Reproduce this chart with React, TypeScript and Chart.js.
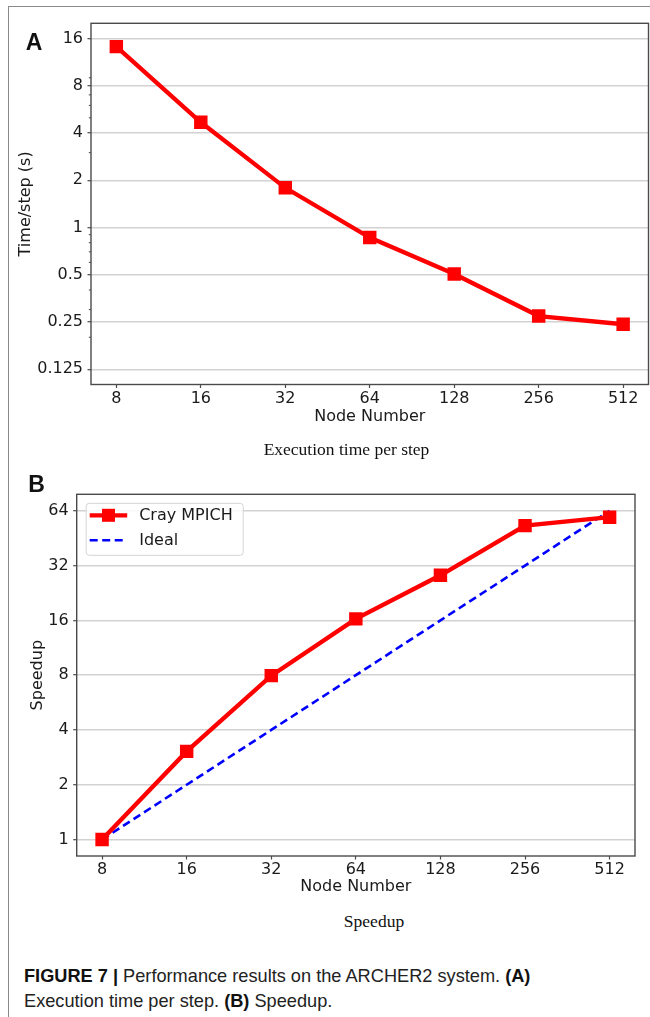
import { useEffect, useRef } from "react";
import { Chart, registerables } from "chart.js";

Chart.register(...registerables);

// ---------- data ----------
const nodeNumbers = [8, 16, 32, 64, 128, 256, 512];
const timePerStep = [14.2, 4.68, 1.79, 0.864, 0.506, 0.273, 0.242];
const speedupCray = [1, 3.05, 7.95, 16.3, 28.3, 53, 59];
const speedupIdeal = [1, 2, 4, 8, 16, 32, 64];
const timeTicks = [0.125, 0.25, 0.5, 1, 2, 4, 8, 16];
const timeMinorTicks = [0.2, 0.3, 0.4, 0.6, 0.7, 0.8, 0.9, 3, 5, 6, 7, 9];
const speedupTicks = [1, 2, 4, 8, 16, 32, 64];
const xLimits = [Math.pow(2, 2.7), Math.pow(2, 9.3)];
const timeLimits = [0.1, 20];
const speedupLimits = [Math.pow(2, -0.3), Math.pow(2, 6.3)];

const FONT = "'DejaVu Sans', sans-serif";
const TEXT = "#1a1a1a";
const AXIS = "#4a4a4a";
const GRID = "#d2d2d2";

const framePlugin = {
  id: "frame",
  afterDatasetsDraw(chart: any) {
    const { ctx, chartArea: a } = chart;
    ctx.save();
    ctx.strokeStyle = AXIS;
    ctx.lineWidth = 1.4;
    ctx.strokeRect(a.left, a.top, a.right - a.left, a.bottom - a.top);
    ctx.restore();
  },
};

const minorTickPlugin = {
  id: "minorTicks",
  afterDraw(chart: any) {
    const { ctx, chartArea: a } = chart;
    const ys = chart.scales.y;
    ctx.save();
    ctx.strokeStyle = AXIS;
    ctx.lineWidth = 1;
    for (const v of timeMinorTicks) {
      const p = ys.getPixelForValue(v);
      ctx.beginPath();
      ctx.moveTo(a.left - 2.2, p);
      ctx.lineTo(a.left, p);
      ctx.stroke();
    }
    ctx.restore();
  },
};

const legendPlugin = {
  id: "mplLegend",
  afterDatasetsDraw(chart: any) {
    const { ctx, chartArea: a } = chart;
    const x = a.left + 9.5;
    const y = a.top + 9;
    const w = 157;
    const h = 52;
    ctx.save();
    ctx.beginPath();
    ctx.roundRect(x, y, w, h, 3);
    ctx.fillStyle = "rgba(255,255,255,0.85)";
    ctx.fill();
    ctx.strokeStyle = "#d4d4d4";
    ctx.lineWidth = 1;
    ctx.stroke();
    const rows = [y + 12, y + 37];
    chart.data.datasets.forEach((d: any, i: number) => {
      const ry = rows[i];
      ctx.beginPath();
      ctx.setLineDash(d.borderDash || []);
      ctx.strokeStyle = d.borderColor;
      ctx.lineWidth = d.borderWidth;
      ctx.moveTo(x + 3.5, ry);
      ctx.lineTo(x + 41, ry);
      ctx.stroke();
      ctx.setLineDash([]);
      if (d.pointRadius > 0) {
        const s = 13;
        ctx.fillStyle = d.pointBackgroundColor;
        ctx.fillRect(x + 22.3 - s / 2, ry - s / 2, s, s);
      }
      ctx.fillStyle = TEXT;
      ctx.font = "16px " + FONT;
      ctx.textBaseline = "middle";
      ctx.fillText(d.label, x + 53, ry + 1);
    });
    ctx.restore();
  },
};

function xScale(height: number, titlePadBottom: number) {
  return {
    type: "logarithmic",
    min: xLimits[0],
    max: xLimits[1],
    afterBuildTicks: (s: any) => {
      s.ticks = nodeNumbers.map((v) => ({ value: v }));
    },
    afterFit: (s: any) => {
      s.height = height;
      s.paddingLeft = 0;
      s.paddingRight = 0;
    },
    ticks: {
      autoSkip: false,
      maxRotation: 0,
      padding: 1,
      color: TEXT,
      font: { family: FONT, size: 16 },
      callback: (v: any) => String(v),
    },
    grid: {
      drawOnChartArea: false,
      drawTicks: true,
      tickLength: 3.5,
      tickColor: AXIS,
      tickWidth: 1.2,
    },
    border: { display: false },
    title: {
      display: true,
      text: "Node Number",
      color: TEXT,
      font: { family: FONT, size: 16 },
      padding: { top: 0, bottom: titlePadBottom },
    },
  };
}

function yScale(
  width: number,
  limits: number[],
  ticks: number[],
  title: string,
  titlePadTop: number
) {
  return {
    type: "logarithmic",
    min: limits[0],
    max: limits[1],
    afterBuildTicks: (s: any) => {
      s.ticks = ticks.map((v) => ({ value: v }));
    },
    afterFit: (s: any) => {
      s.width = width;
      s.paddingTop = 0;
      s.paddingBottom = 0;
    },
    ticks: {
      autoSkip: false,
      padding: 4.5,
      color: TEXT,
      font: { family: FONT, size: 16 },
      callback: (v: any) => String(v),
    },
    grid: {
      color: GRID,
      lineWidth: 1.4,
      drawTicks: true,
      tickLength: 3.5,
      tickColor: AXIS,
      tickWidth: 1.2,
    },
    border: { display: false },
    title: {
      display: true,
      text: title,
      color: TEXT,
      font: { family: FONT, size: 16 },
      padding: { top: titlePadTop, bottom: 0 },
    },
  };
}

const abs = (o: any) => ({ position: "absolute" as const, ...o });

export default function App() {
  const refA = useRef<HTMLCanvasElement>(null);
  const refB = useRef<HTMLCanvasElement>(null);

  useEffect(() => {
    const chartA = new Chart(refA.current as HTMLCanvasElement, {
      type: "line",
      data: {
        datasets: [
          {
            label: "Time/step",
            data: nodeNumbers.map((n, i) => ({ x: n, y: timePerStep[i] })),
            borderColor: "#ff0000",
            backgroundColor: "#ff0000",
            borderWidth: 4.3,
            pointStyle: "rect",
            pointRadius: 9.5,
            pointBorderWidth: 0,
            pointBackgroundColor: "#ff0000",
            tension: 0,
          },
        ],
      },
      options: {
        responsive: false,
        animation: false,
        devicePixelRatio: 1,
        layout: { padding: { top: 23.3, right: 1, left: 0, bottom: 0 } },
        plugins: { legend: { display: false }, tooltip: { enabled: false } },
        scales: {
          x: xScale(55.5, 13.4),
          y: yScale(91, timeLimits, timeTicks, "Time/step (s)", 16.4),
        },
      } as any,
      plugins: [framePlugin, minorTickPlugin],
    });

    const chartB = new Chart(refB.current as HTMLCanvasElement, {
      type: "line",
      data: {
        datasets: [
          {
            label: "Cray MPICH",
            data: nodeNumbers.map((n, i) => ({ x: n, y: speedupCray[i] })),
            borderColor: "#ff0000",
            backgroundColor: "#ff0000",
            borderWidth: 4.3,
            pointStyle: "rect",
            pointRadius: 9.5,
            pointBorderWidth: 0,
            pointBackgroundColor: "#ff0000",
            tension: 0,
          },
          {
            label: "Ideal",
            data: nodeNumbers.map((n, i) => ({ x: n, y: speedupIdeal[i] })),
            borderColor: "#0000ff",
            backgroundColor: "#0000ff",
            borderWidth: 2.6,
            borderDash: [8, 4.5],
            pointRadius: 0,
            tension: 0,
          },
        ],
      },
      options: {
        responsive: false,
        animation: false,
        devicePixelRatio: 1,
        layout: { padding: { top: 34.3, right: 15, left: 0, bottom: 0 } },
        plugins: { legend: { display: false }, tooltip: { enabled: false } },
        scales: {
          x: xScale(44, 3.1),
          y: yScale(76.7, speedupLimits, speedupTicks, "Speedup", 28.4),
        },
      } as any,
      plugins: [framePlugin, legendPlugin],
    });

    return () => {
      chartA.destroy();
      chartB.destroy();
    };
  }, []);

  const boldLetter = {
    fontFamily: "'Liberation Sans', Arial, sans-serif",
    fontWeight: 700,
    fontSize: 23,
    lineHeight: "23px",
    color: "#111",
    whiteSpace: "nowrap" as const,
  };
  const serifCap = {
    fontFamily: "'Liberation Serif', 'Times New Roman', serif",
    fontSize: 17.5,
    lineHeight: "17.5px",
    color: "#111",
    whiteSpace: "nowrap" as const,
    transform: "translateX(-50%)",
  };

  return (
    <div
      style={abs({
        left: 0,
        top: 0,
        width: 650,
        height: 1017,
        background: "#ffffff",
        overflow: "hidden",
      })}
    >
      <div
        style={abs({
          left: 7.5,
          top: 5.5,
          width: 650,
          height: 1020,
          borderLeft: "1.4px solid #8a8a8a",
          borderTop: "1.4px solid #8a8a8a",
          boxSizing: "border-box",
        })}
      />
      <canvas
        ref={refA}
        width={658}
        height={440}
        style={abs({ left: 0, top: 0, width: 658, height: 440 })}
      />
      <canvas
        ref={refB}
        width={650}
        height={440}
        style={abs({ left: 0, top: 460, width: 650, height: 440 })}
      />
      <div style={abs({ left: 25.7, top: 31.2, ...boldLetter })}>A</div>
      <div style={abs({ left: 28.2, top: 473.2, ...boldLetter })}>B</div>
      <div style={abs({ left: 346.5, top: 441.2, ...serifCap })}>
        Execution time per step
      </div>
      <div style={abs({ left: 374, top: 912.6, ...serifCap })}>Speedup</div>
      <div
        style={abs({
          left: 24,
          top: 964,
          width: 620,
          fontFamily: "'Liberation Sans', Arial, sans-serif",
          fontSize: 18.2,
          lineHeight: "25px",
          color: "#222",
        })}
      >
        <div style={{ whiteSpace: "nowrap" }}>
          <b style={{ color: "#111" }}>FIGURE 7 |</b> Performance results on the
          ARCHER2 system. <b style={{ color: "#111" }}>(A)</b>
        </div>
        <div style={{ whiteSpace: "nowrap" }}>
          Execution time per step. <b style={{ color: "#111" }}>(B)</b> Speedup.
        </div>
      </div>
    </div>
  );
}
